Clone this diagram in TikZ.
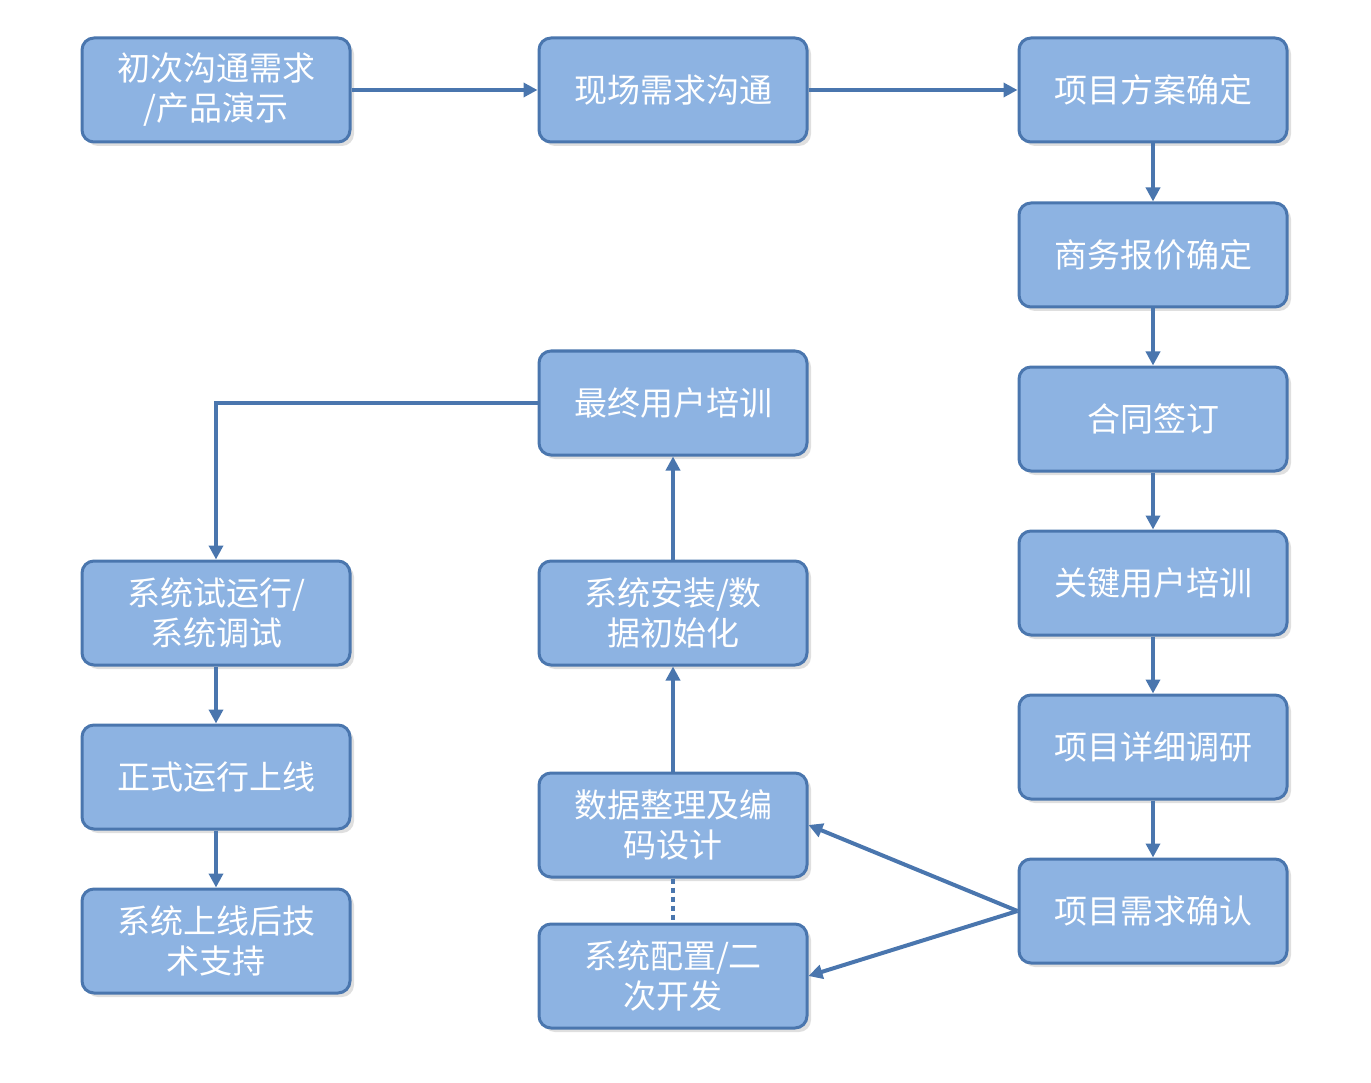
\documentclass[tikz,border=0pt]{standalone}
\usepackage{fontspec}
\setmainfont{Noto Sans CJK SC}
\usetikzlibrary{arrows.meta,shadows}
\definecolor{bfill}{HTML}{8DB3E2}
\definecolor{bline}{HTML}{4A76AE}
\begin{document}
\begin{tikzpicture}[x=1pt,y=-1pt,
  box/.style={draw=bline,line width=3pt,fill=bfill,rounded corners=12pt,
    minimum width=268pt,minimum height=104pt,align=center,text=white,
    font=\fontsize{33}{40}\selectfont,
    drop shadow={shadow xshift=4pt,shadow yshift=-4pt,fill=black!25}},
  arr/.style={draw=bline,line width=4pt,-{Triangle[length=14pt,width=14pt]}}]
\useasboundingbox (0,0) rectangle (1371,1083);
\node[box] (a) at (216,90) {初次沟通需求\\/产品演示};
\node[box] (b) at (673,90) {现场需求沟通};
\node[box] (c) at (1153,90) {项目方案确定};
\node[box] (d) at (1153,255) {商务报价确定};
\node[box] (e) at (1153,419) {合同签订};
\node[box] (f) at (1153,583) {关键用户培训};
\node[box] (g) at (1153,747) {项目详细调研};
\node[box] (h) at (1153,911) {项目需求确认};
\node[box] (i) at (673,825) {数据整理及编\\码设计};
\node[box] (j) at (673,976) {系统配置/二\\次开发};
\node[box] (k) at (673,613) {系统安装/数\\据初始化};
\node[box] (l) at (673,403) {最终用户培训};
\node[box] (m) at (216,613) {系统试运行/\\系统调试};
\node[box] (n) at (216,777) {正式运行上线};
\node[box] (o) at (216,941) {系统上线后技\\术支持};
\coordinate (lm) at (216,403);
\draw[arr] (a.east) -- (b.west);
\draw[arr] (b.east) -- (c.west);
\draw[arr] (c) -- (d);
\draw[arr] (d) -- (e);
\draw[arr] (e) -- (f);
\draw[arr] (f) -- (g);
\draw[arr] (g) -- (h);
\draw[arr] (h.west) -- (i.east);
\draw[arr] (h.west) -- (j.east);
\draw[draw=bline,line width=4pt,dash pattern=on 5pt off 4pt] (i) -- (j);
\draw[arr] (i) -- (k);
\draw[arr] (k) -- (l);
\draw[arr] (l.west) -- (lm) -- (m.north);
\draw[arr] (m) -- (n);
\draw[arr] (n) -- (o);
\end{tikzpicture}
\end{document}
